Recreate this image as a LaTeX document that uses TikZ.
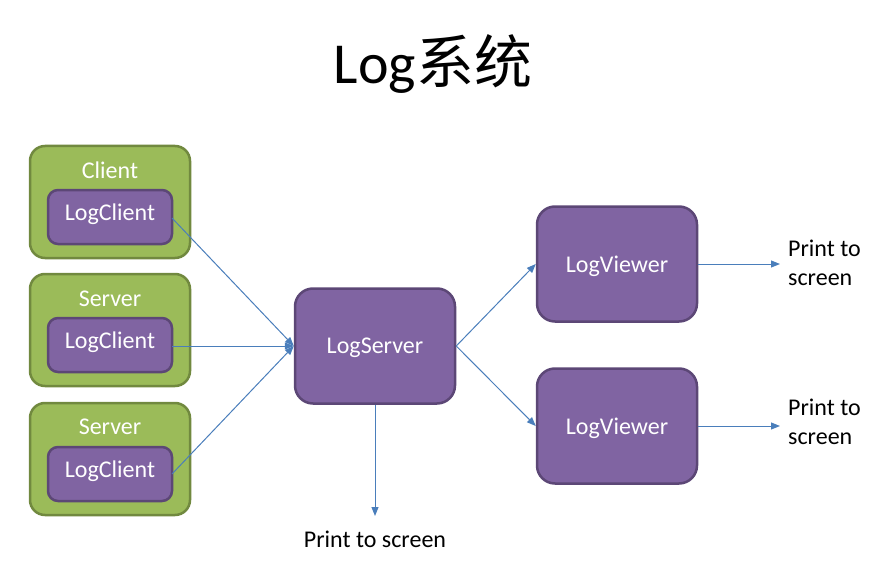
\documentclass[tikz,border=0pt]{standalone}
\usepackage{fontspec}
\setmainfont{Carlito}
\newfontfamily\cjk{Noto Sans CJK SC}
\usetikzlibrary{arrows.meta}
\definecolor{gfill}{HTML}{9BBB59}
\definecolor{gdraw}{HTML}{71893F}
\definecolor{pfill}{HTML}{8064A2}
\definecolor{pdraw}{HTML}{5C4776}
\definecolor{ablue}{HTML}{4A7EBB}
\tikzset{
  greenbox/.style={draw=gdraw, fill=gfill, line width=2.5pt, rounded corners=15pt},
  purplebox/.style={draw=pdraw, fill=pfill, line width=2.5pt, rounded corners=18pt, text=white, font=\fontsize{24}{29}\selectfont, text depth=0pt},
  innerbox/.style={draw=pdraw, fill=pfill, line width=2.5pt, rounded corners=10pt},
  wlabel/.style={text=white, font=\fontsize{24}{29}\selectfont, inner sep=0pt},
  blabel/.style={text=black, font=\fontsize{24}{29}\selectfont, inner sep=0pt, align=left},
  conn/.style={draw=ablue, line width=1pt, -{Triangle[length=9pt,width=7pt]}}
}
\begin{document}
\begin{tikzpicture}[x=1pt,y=-1pt]
\useasboundingbox (0,0) rectangle (881,567);
\node[inner sep=0pt, font=\fontsize{58}{64}\selectfont] (title) at (433,64) {Log{\cjk 系统}};
% green containers
\path[greenbox] (30,146) rectangle (190,258);
\path[greenbox] (30,274) rectangle (190,386);
\path[greenbox] (30,403) rectangle (190,515);
\node[wlabel] (g1) at (110,170) {Client};
\node[wlabel] (g2) at (110,299) {Server};
\node[wlabel] (g3) at (110,427) {Server};
% inner LogClient boxes
\path[innerbox] (48,190) rectangle (172,244);
\path[innerbox] (48,318) rectangle (172,372);
\path[innerbox] (48,447) rectangle (172,501);
\node[wlabel] (c1t) at (110,214) {LogClient};
\node[wlabel] (c2t) at (110,342) {LogClient};
\node[wlabel] (c3t) at (110,471) {LogClient};
\coordinate (c1) at (172,218);
\coordinate (c2) at (172,346);
\coordinate (c3) at (172,474);
% LogServer
\node[purplebox, minimum width=160pt, minimum height=115pt] (srv) at (375,346) {LogServer};
% LogViewers
\node[purplebox, minimum width=160pt, minimum height=115pt] (v1) at (617,264) {LogViewer};
\node[purplebox, minimum width=160pt, minimum height=115pt] (v2) at (617,426) {LogViewer};
% labels
\node[blabel, anchor=west] (p1) at (788,263) {Print to\\screen};
\node[blabel, anchor=west] (p2) at (788,422) {Print to\\screen};
\node[blabel] (p3) at (375,539) {Print to screen};
\coordinate (e1) at (780,264);
\coordinate (e2) at (780,426);
\coordinate (e3) at (375,516);
% connectors
\draw[conn] (c1) -- (srv.west);
\draw[conn] (c2) -- (srv.west);
\draw[conn] (c3) -- (srv.west);
\draw[conn] (srv.east) -- (v1.west);
\draw[conn] (srv.east) -- (v2.west);
\draw[conn] (v1.east) -- (e1);
\draw[conn] (v2.east) -- (e2);
\draw[conn] (srv.south) -- (e3);
\end{tikzpicture}
\end{document}
